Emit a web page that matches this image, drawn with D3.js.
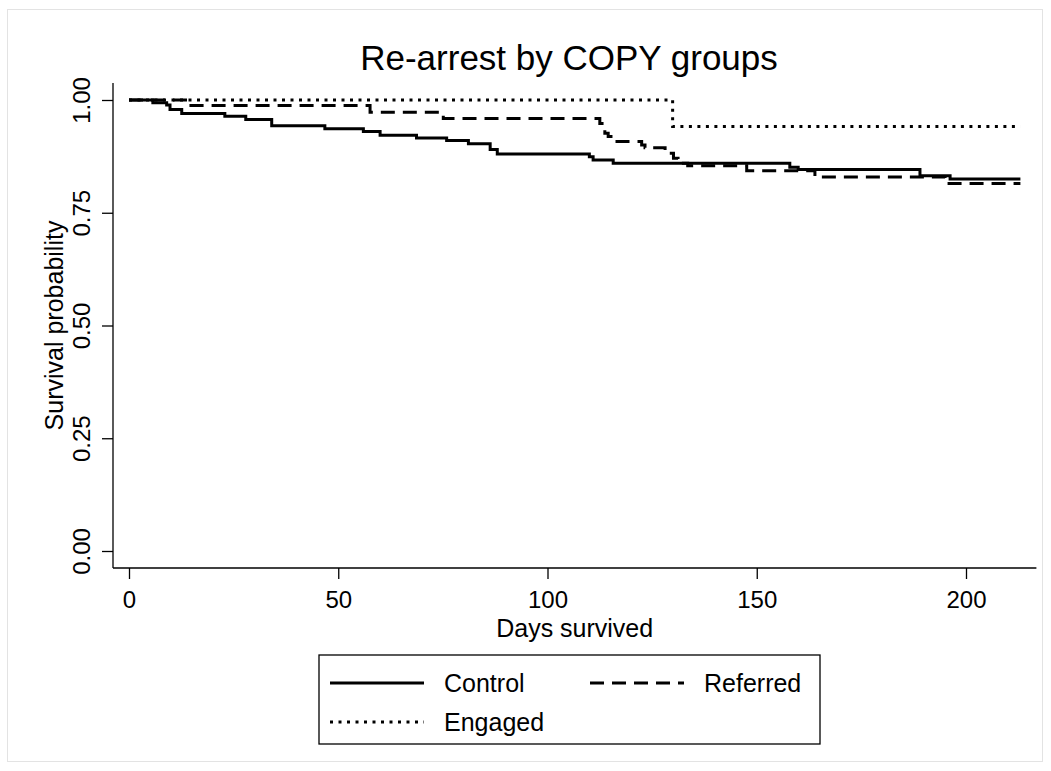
<!DOCTYPE html>
<html>
<head>
<meta charset="utf-8">
<script src="https://cdn.jsdelivr.net/npm/d3@7"></script>
<style>
  body { margin: 0; background: #fff; }
  svg text { font-family: "Liberation Sans", Arial, sans-serif; fill: #000; }
  .domain, .tick line { stroke: #000; stroke-width: 1.3; }
</style>
</head>
<body>
<div id="chart"></div>
<script>
// Kaplan-Meier step data (days, survival probability)
var controlDays = [0, 5.7, 9.0, 9.8, 12.6, 22.9, 27.9, 34.1, 46.8, 56.0, 60.0, 68.7, 75.9, 81.1, 86.3, 88.0, 110.0, 110.9, 115.7, 157.9, 159.9, 189.0, 196.2, 213];
var controlSurv = [1, 0.994, 0.989, 0.979, 0.970, 0.964, 0.957, 0.943, 0.936, 0.930, 0.922, 0.916, 0.910, 0.903, 0.890, 0.880, 0.874, 0.867, 0.860, 0.851, 0.846, 0.832, 0.825, 0.825];

var referredDays = [0, 14.8, 57.6, 75.1, 112.5, 113.7, 114.5, 115.6, 122.5, 123.3, 128.1, 130.1, 131.2, 133.5, 147.6, 163.9, 195.0, 213];
var referredSurv = [1, 0.988, 0.973, 0.959, 0.948, 0.926, 0.919, 0.908, 0.900, 0.894, 0.882, 0.871, 0.860, 0.854, 0.843, 0.829, 0.815, 0.815];

var engagedDays = [0, 129.9, 213];
var engagedSurv = [1, 0.941, 0.941];

var xTicks = [0, 50, 100, 150, 200];
var yTicks = [0, 0.25, 0.5, 0.75, 1];

var groups = ["Control", "Referred", "Engaged"];
var dashes = { Control: null, Referred: "14,8", Engaged: "3,5.5" };
var widths = { Control: 3, Referred: 3, Engaged: 3 };

var W = 1051, H = 771;

var svg = d3.select("#chart")
    .append("svg")
    .attr("width", W)
    .attr("height", H);

// light frame around the graph
svg.append("rect")
    .attr("x", 7.5).attr("y", 9.5)
    .attr("width", 1035).attr("height", 752)
    .attr("fill", "none")
    .attr("stroke", "#e3e3e3");

var x = d3.scaleLinear().domain([0, 200]).range([129, 966]);
var y = d3.scaleLinear().domain([0, 1]).range([551, 100]);

var plotLeft = 113, plotBottom = 568, plotTop = 83, plotRight = x(213) + 16;

// x axis
var xAxis = svg.append("g")
    .attr("transform", "translate(0," + plotBottom + ")")
    .call(d3.axisBottom(x).tickValues(xTicks).tickSize(11).tickSizeOuter(0).tickFormat(d3.format("d")));
xAxis.select(".domain").attr("d", "M" + plotLeft + ",0H" + plotRight);
xAxis.selectAll("text")
    .attr("y", 40).attr("dy", 0)
    .style("font-size", "24px");

// y axis
var yAxis = svg.append("g")
    .attr("transform", "translate(" + plotLeft + ",0)")
    .call(d3.axisLeft(y).tickValues(yTicks).tickSize(11).tickSizeOuter(0).tickFormat(d3.format(".2f")));
yAxis.select(".domain").attr("d", "M0," + plotTop + "V" + plotBottom);
yAxis.selectAll(".tick text")
    .attr("x", null).attr("dy", null)
    .attr("text-anchor", "middle")
    .attr("transform", "translate(-23,0) rotate(-90)")
    .style("font-size", "24px");

// survival curves
var series = {
    Control: d3.zip(controlDays, controlSurv),
    Referred: d3.zip(referredDays, referredSurv),
    Engaged: d3.zip(engagedDays, engagedSurv)
};

var line = d3.line()
    .curve(d3.curveStepAfter)
    .x(function (d) { return x(d[0]); })
    .y(function (d) { return y(d[1]); });

groups.slice().reverse().forEach(function (g) {
    svg.append("path")
        .datum(series[g])
        .attr("fill", "none")
        .attr("stroke", "#000")
        .attr("stroke-width", widths[g])
        .attr("stroke-dasharray", dashes[g])
        .attr("d", line);
});

// titles
svg.append("text")
    .attr("x", 569).attr("y", 70)
    .attr("text-anchor", "middle")
    .style("font-size", "35px")
    .text("Re-arrest by COPY groups");

svg.append("text")
    .attr("x", (plotLeft + plotRight) / 2).attr("y", 637)
    .attr("text-anchor", "middle")
    .style("font-size", "25px")
    .text("Days survived");

svg.append("text")
    .attr("transform", "translate(63," + ((plotTop + plotBottom) / 2) + ") rotate(-90)")
    .attr("text-anchor", "middle")
    .style("font-size", "25px")
    .text("Survival probability");

// legend
var legend = svg.append("g");
legend.append("rect")
    .attr("x", 319).attr("y", 655)
    .attr("width", 501).attr("height", 89)
    .attr("fill", "none")
    .attr("stroke", "#000")
    .attr("stroke-width", 1.3);

var legendPos = {
    Control: [330, 683],
    Referred: [590, 683],
    Engaged: [330, 722]
};

groups.forEach(function (g) {
    var p = legendPos[g];
    legend.append("line")
        .attr("x1", p[0]).attr("x2", p[0] + 94)
        .attr("y1", p[1]).attr("y2", p[1])
        .attr("stroke", "#000")
        .attr("stroke-width", widths[g])
        .attr("stroke-dasharray", dashes[g]);
    legend.append("text")
        .attr("x", p[0] + 114).attr("y", p[1] + 9)
        .style("font-size", "25px")
        .text(g);
});
</script>
</body>
</html>
